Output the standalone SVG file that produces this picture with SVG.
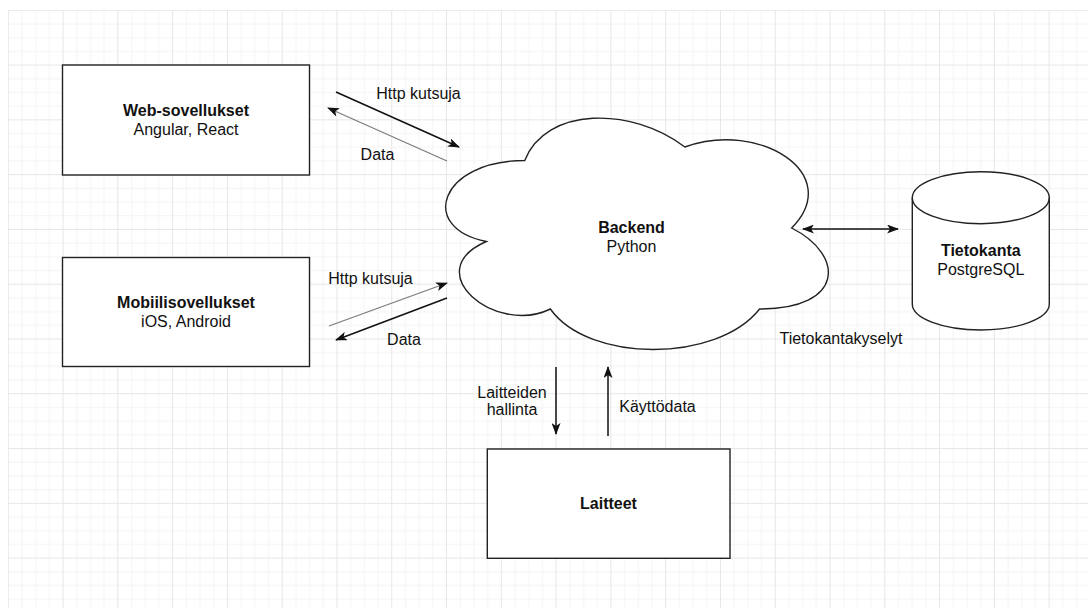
<svg xmlns="http://www.w3.org/2000/svg" width="1088" height="608" viewBox="0 0 1088 608">
  <defs>
    <pattern id="grid" x="7.8" y="9.8" width="54.78" height="54.78" patternUnits="userSpaceOnUse">
      <path d="M14.2,0 V54.78 M27.9,0 V54.78 M41.6,0 V54.78 M0,14.2 H54.78 M0,27.9 H54.78 M0,41.6 H54.78" stroke="#f4f4f4" stroke-width="1" fill="none"/>
      <path d="M0.5,0 V54.78 M0,0.5 H54.78" stroke="#e6e6e6" stroke-width="1" fill="none"/>
    </pattern>
    <marker id="arr" viewBox="0 0 12 9" refX="11" refY="4.5" markerWidth="12" markerHeight="9" markerUnits="userSpaceOnUse" orient="auto-start-reverse">
      <path d="M0,0 L12,4.5 L0,9 L3,4.5 Z" fill="#111"/>
    </marker>
    <style>
      .box { fill: #fff; stroke: #222; stroke-width: 1.4; }
      .t { font-family: "Liberation Sans", Arial, Helvetica, sans-serif; font-size: 16px; fill: #111; text-anchor: middle; }
      .b { font-weight: bold; }
      .dark { stroke: #111; stroke-width: 1.5; fill: none; }
      .light { stroke: #7a7a7a; stroke-width: 1.2; fill: none; }
    </style>
  </defs>
  <rect x="0" y="0" width="1088" height="608" fill="#fff"/>
  <rect x="8" y="10" width="1080" height="598" fill="url(#grid)"/>

  <g id="connectors">
    <line class="dark" x1="336" y1="92" x2="459" y2="147" marker-end="url(#arr)"/>
    <line class="light" x1="447" y1="161" x2="328" y2="108" marker-end="url(#arr)"/>
    <line class="light" x1="329" y1="326" x2="447" y2="283" marker-end="url(#arr)"/>
    <line class="dark" x1="447" y1="298" x2="336" y2="340" marker-end="url(#arr)"/>
    <line class="dark" x1="556" y1="367" x2="556" y2="434" marker-end="url(#arr)"/>
    <line class="dark" x1="608" y1="436" x2="608" y2="367" marker-end="url(#arr)"/>
    <line class="dark" x1="803" y1="229" x2="898" y2="229" marker-start="url(#arr)" marker-end="url(#arr)"/>
    <text class="t" x="418.5" y="98.5">Http kutsuja</text>
    <text class="t" x="377.5" y="160">Data</text>
    <text class="t" x="370.5" y="283.5">Http kutsuja</text>
    <text class="t" x="404" y="345">Data</text>
    <text class="t" x="512" y="397.5">Laitteiden</text>
    <text class="t" x="512" y="415">hallinta</text>
    <text class="t" x="657.5" y="412">Käyttödata</text>
    <text class="t" x="841" y="343.5">Tietokantakyselyt</text>
  </g>

  <g id="web">
    <rect class="box" x="62.5" y="65" width="247" height="110"/>
    <text class="t b" x="186" y="115.5">Web-sovellukset</text>
    <text class="t" x="186" y="135">Angular, React</text>
  </g>

  <g id="mobile">
    <rect class="box" x="62.5" y="257.5" width="247" height="109"/>
    <text class="t b" x="186" y="307.5">Mobiilisovellukset</text>
    <text class="t" x="186" y="326.5">iOS, Android</text>
  </g>

  <g id="backend">
    <path class="box" d="M524.75,160.5 C439.35,160.5 418,228 486.32,241.5 C418,271.2 494.86,336 550.37,309 C588.8,363 716.9,363 759.6,309 C845,309 845,255 791.63,228 C845,174 759.6,120 684.88,147 C631.5,106.5 546.1,106.5 524.75,160.5 Z"/>
    <text class="t b" x="631.5" y="233">Backend</text>
    <text class="t" x="631.5" y="252">Python</text>
  </g>

  <g id="database">
    <path class="box" d="M912.3,197.7 A68.5,26 0 0 1 1049.3,197.7 V304 A68.5,26 0 0 1 912.3,304 Z"/>
    <path d="M912.3,197.7 A68.5,26 0 0 0 1049.3,197.7" fill="none" stroke="#222" stroke-width="1.4"/>
    <text class="t b" x="980.8" y="255.5">Tietokanta</text>
    <text class="t" x="980.8" y="274.5">PostgreSQL</text>
  </g>

  <g id="devices">
    <rect class="box" x="487.3" y="449" width="242.7" height="109.3"/>
    <text class="t b" x="608.5" y="508.5">Laitteet</text>
  </g>
</svg>
